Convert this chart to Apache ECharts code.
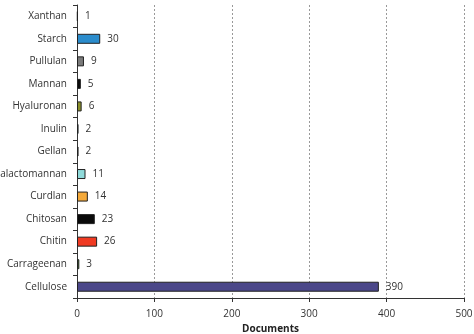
<!DOCTYPE html>
<html><head><meta charset="utf-8">
<script src="https://cdn.jsdelivr.net/npm/echarts@6/dist/echarts.min.js"></script>
<style>html,body{margin:0;padding:0;background:#fff}#c{width:474px;height:334px}</style>
</head><body><div id="c"></div>
<script>
const categories = ["Cellulose","Carrageenan","Chitin","Chitosan","Curdlan","Galactomannan","Gellan","Inulin","Hyaluronan","Mannan","Pullulan","Starch","Xanthan"];
const values = [390,3,26,23,14,11,2,2,6,5,9,30,1];
const colors = ["#4b4789","#3f7a2a","#f03a22","#0a0a0a","#f4a93a","#8fdada","#3a3a3a","#2a8a9a","#8a8f2a","#0a0a0a","#7a7a7a","#2b8ccc","#5a4a3a"];
const xTicks = [0,100,200,300,400,500];

const chart = echarts.init(document.getElementById('c'));
const font = "'Open Sans', 'DejaVu Sans', sans-serif";
chart.setOption({
  animation:false,
  grid:{left:77,right:10,top:5,bottom:36,containLabel:false,outerBoundsMode:'none'},
  xAxis:{type:'value',min:xTicks[0],max:xTicks[xTicks.length-1],interval:100,
    name:'Documents',nameLocation:'middle',nameGap:23,
    nameTextStyle:{fontFamily:font,fontSize:10,fontWeight:'bold',color:'#222'},
    axisLine:{show:true,lineStyle:{color:'#333'}},
    axisTick:{show:true,length:4,lineStyle:{color:'#333'}},
    axisLabel:{fontFamily:font,fontSize:10,color:'#333',margin:11},
    splitLine:{show:true,lineStyle:{type:[2,2],color:'#999'}}},
  yAxis:{type:'category',data:categories,
    axisLine:{show:true,lineStyle:{color:'#333'}},
    axisTick:{show:true,length:4,lineStyle:{color:'#333'}},
    axisLabel:{fontFamily:font,fontSize:10,color:'#333',margin:10}},
  series:[{type:'bar',barWidth:10,
    data:values.map((v,i)=>({value:v,itemStyle:{color:colors[i]}})),
    itemStyle:{borderColor:'#222',borderWidth:1},
    label:{show:true,position:'right',distance:7,fontFamily:font,fontSize:10,color:'#333'}}]
});
</script></body></html>
